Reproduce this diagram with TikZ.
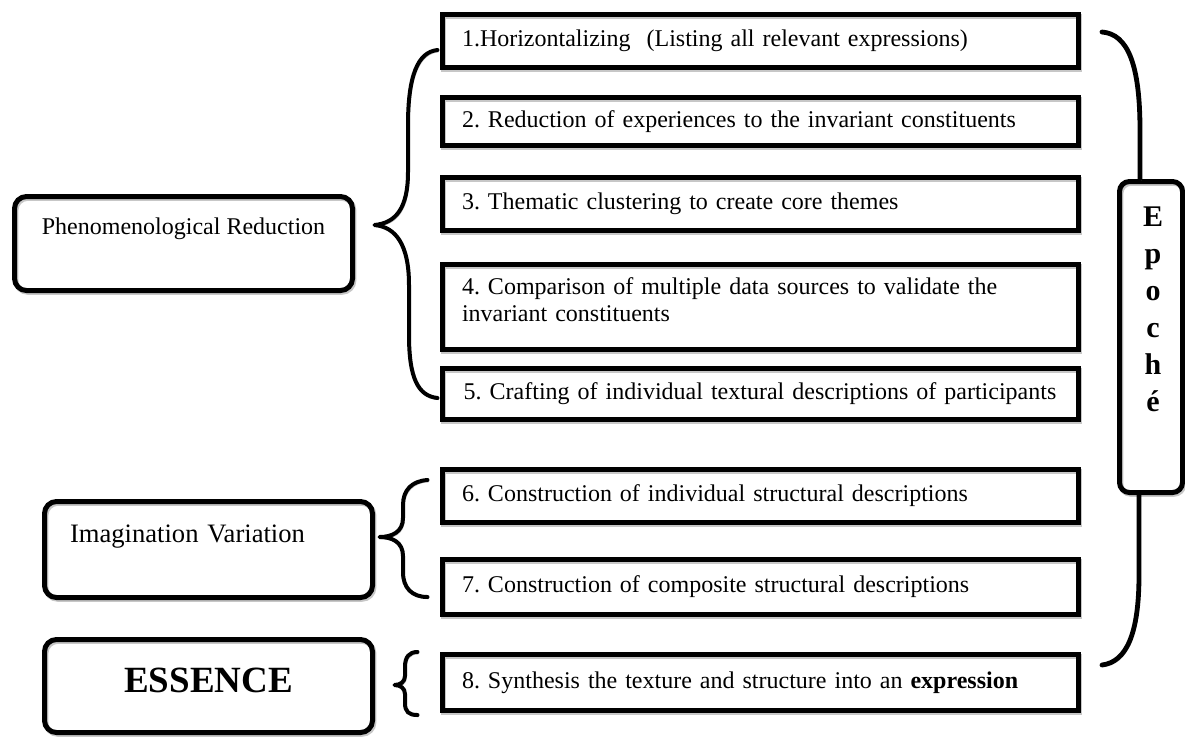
\documentclass[tikz,border=0pt]{standalone}
\usepackage{fontspec}
\setmainfont{Liberation Serif}
\usetikzlibrary{calc}
\frenchspacing
\begin{document}
\begin{tikzpicture}[x=0.5pt,y=-0.5pt,
  shadowed/.style={preaction={draw=black!22, transform canvas={xshift=0.7pt,yshift=-0.9pt}}},
  stepbox/.style={draw, line width=2.5pt, shadowed, minimum width=318pt, inner xsep=10pt, inner ysep=0pt,
    text width=298pt, align=left, font=\fontsize{12}{13.5}\selectfont},
  rbox/.style={draw, line width=2.5pt, shadowed, rounded corners=6pt, inner sep=0pt},
  brace/.style={line width=2pt, line cap=round, line join=round, shadowed}
]
\useasboundingbox (0,0) rectangle (1185,736);

% step boxes
\node[stepbox, minimum height=26.5pt] (b1) at (760,41) {1.Horizontalizing\ \ (Listing all relevant expressions)};
\node[stepbox, minimum height=24pt] (b2) at (760,121.5) {2. Reduction of experiences to the invariant constituents};
\node[stepbox, minimum height=26.5pt] (b3) at (760,204) {3. Thematic clustering to create core themes};
\node[stepbox, minimum height=42.5pt, text height=8.5pt, text depth=21pt] (b4) at (760,307) {4. Comparison of multiple data sources to validate the\\invariant constituents};
\node[stepbox, minimum height=25.5pt, inner xsep=3pt, text width=312pt, align=center] (b5) at (760,394) {5. Crafting of individual textural descriptions of participants};
\node[stepbox, minimum height=26.5pt] (b6) at (760,496) {6. Construction of individual structural descriptions};
\node[stepbox, minimum height=27.5pt] (b7) at (760,587) {7. Construction of composite structural descriptions};
\node[stepbox, minimum height=28pt] (b8) at (760,682.5) {8. Synthesis the texture and structure into an \textbf{expression}};

% left rounded boxes
\node[rbox, minimum width=169pt, minimum height=47pt, font=\fontsize{12}{14}\selectfont,
  text height=8pt, text depth=17.1pt] (pr) at (183.5,243.5) {Phenomenological Reduction};
\node[rbox, minimum width=164pt, minimum height=48pt, inner xsep=12.75pt, text width=138.5pt, align=left,
  font=\fontsize{13.3}{15}\selectfont, text height=9pt, text depth=15.7pt] (iv) at (208.5,549.5) {Imagination Variation};
\node[rbox, minimum width=164pt, minimum height=46.5pt, font=\bfseries\fontsize{18.5}{20}\selectfont,
  text height=12.5pt, text depth=6.3pt] (es) at (208.5,686) {ESSENCE};

% Epoche box
\node[rbox, rounded corners=5pt, minimum width=31.5pt, minimum height=155.5pt] (ep) at (1151,337) {};
\node[anchor=north, inner sep=0pt, align=center, font=\bfseries\fontsize{15}{18.5}\selectfont] (eptxt)
  at ($(ep.north)+(2,27.5)$) {E\\p\\o\\c\\h\\é};

% brace coordinates
\coordinate (prT) at ($(b1.west)+(-2,9)$);
\coordinate (prB) at ($(b5.west)+(-2,4)$);
\coordinate (prTip) at ($(pr.east)+(19.5,-18.5)$);
\coordinate (ivT) at ($(b6.west)+(-12,-16)$);
\coordinate (ivB) at ($(b7.west)+(-12,10)$);
\coordinate (ivTip) at ($(iv.east)+(4.5,-12.5)$);
\coordinate (esT) at ($(b8.west)+(-22,-30.5)$);
\coordinate (esB) at ($(b8.west)+(-22,32.5)$);
\coordinate (esTip) at ($(es.east)+(19.5,-1)$);
\coordinate (epT) at (1102,32);
\coordinate (epB) at (1102,665);

% braces
\draw[brace] (prT) .. controls (418,52) and (408,75) .. (408,125) -- (408,172)
  .. controls (408,208) and (396,223) .. (prTip)
  .. controls (396,227) and (409,245) .. (409,285) -- (409,335)
  .. controls (409,378) and (418,396) .. (prB);
\draw[brace] (ivT) .. controls (412,481) and (403,490) .. (403,505) -- (403,518)
  .. controls (403,532) and (392,537) .. (ivTip)
  .. controls (392,537) and (403,542) .. (403,556) -- (403,572)
  .. controls (403,588) and (412,597) .. (ivB);
\draw[brace] (esT) .. controls (409,652) and (405,657) .. (405,667) -- (405,676)
  .. controls (405,682) and (400,685) .. (esTip)
  .. controls (400,685) and (405,688) .. (405,694) -- (405,703)
  .. controls (405,712) and (409,715) .. (esB);
\draw[brace, line width=2.4pt] (epT) .. controls (1128,34) and (1140,65) .. (1140,130) -- ($(ep.north)+(-11,0)$);
\draw[brace, line width=2.4pt] ($(ep.south)+(-12,0)$) -- (1139,575) .. controls (1139,635) and (1126,662) .. (epB);
\end{tikzpicture}
\end{document}
